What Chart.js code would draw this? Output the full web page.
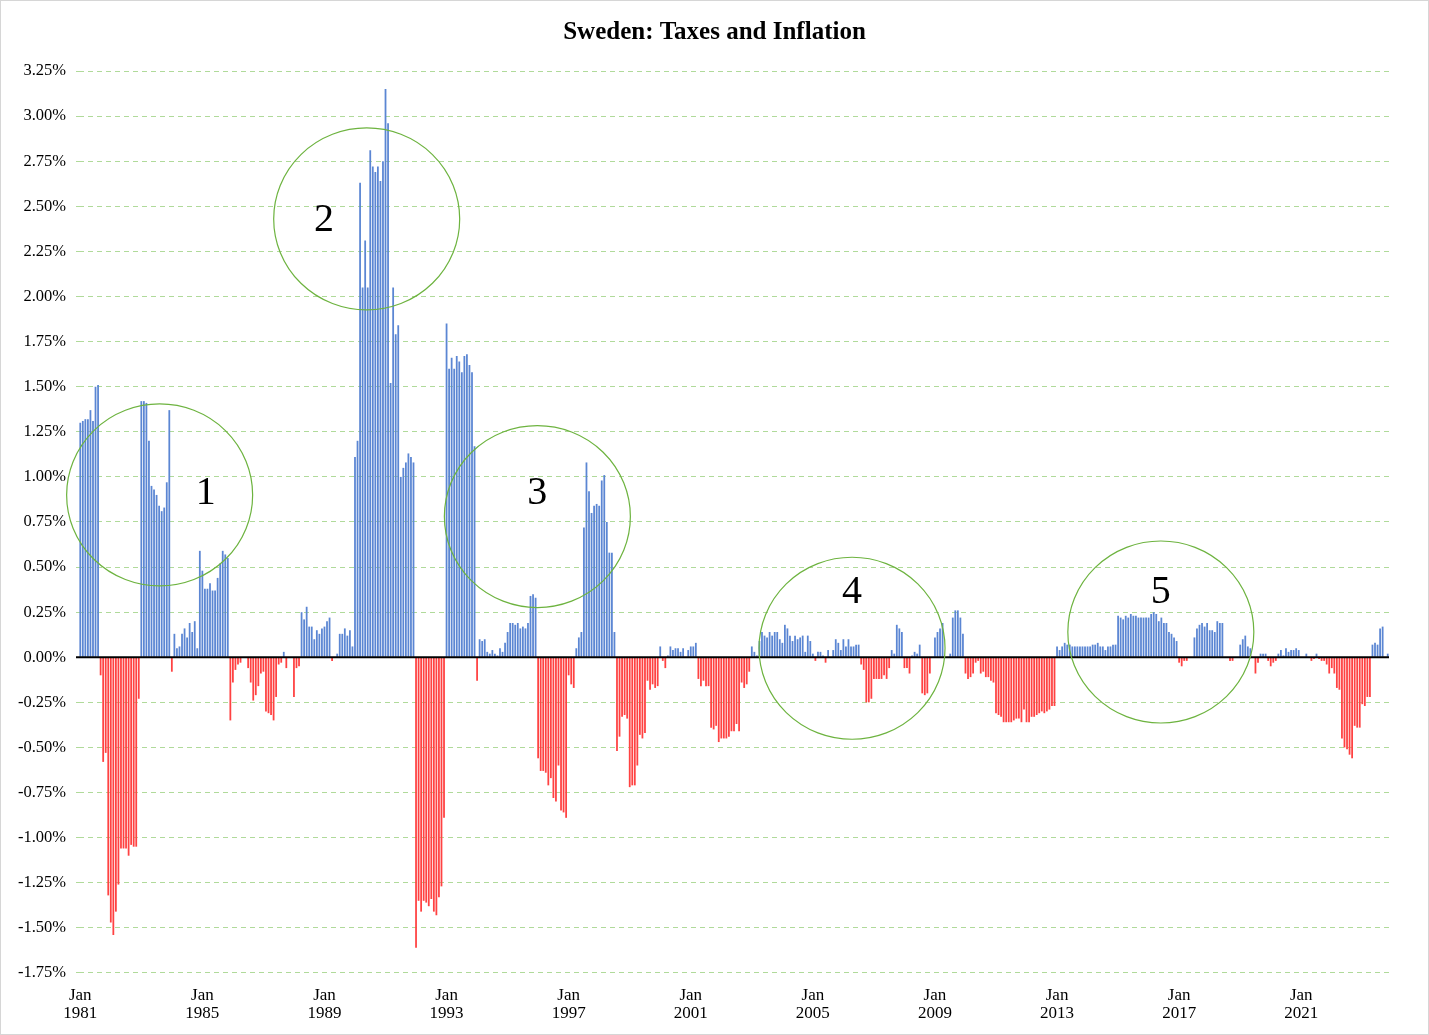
<!DOCTYPE html>
<html lang="en">
<head>
    <meta charset="UTF-8">
    <title>Sweden: Taxes and Inflation</title>
    <script src="https://cdn.jsdelivr.net/npm/chart.js"></script>
    <style>
        html, body { margin: 0; padding: 0; background: #fff; }
        .frame { width: 1429px; height: 1035px; box-sizing: border-box; border: 1px solid #d6d6d6; }
        canvas { display: block; }
    </style>
</head>
<body>
    <div class="frame"><canvas id="chart"></canvas></div>

    <script>
        // Monthly values (%), one array per year
        const startYear = 1981;
        const monthNames = ['Jan','Feb','Mar','Apr','May','Jun','Jul','Aug','Sep','Oct','Nov','Dec'];

        const y1981 = [1.30, 1.31, 1.32, 1.32, 1.37, 1.31, 1.50, 1.51, -0.10, -0.58, -0.53, -1.32];
        const y1982 = [-1.47, -1.54, -1.41, -1.26, -1.06, -1.06, -1.06, -1.10, -1.04, -1.05, -1.05, -0.23];
        const y1983 = [1.42, 1.42, 1.41, 1.20, 0.95, 0.93, 0.90, 0.84, 0.81, 0.83, 0.97, 1.37];
        const y1984 = [-0.08, 0.13, 0.05, 0.06, 0.13, 0.16, 0.11, 0.19, 0.14, 0.20, 0.05, 0.59];
        const y1985 = [0.48, 0.38, 0.38, 0.41, 0.37, 0.37, 0.44, 0.52, 0.59, 0.57, 0.55, -0.35];
        const y1986 = [-0.14, -0.07, -0.04, -0.03, 0, 0, -0.06, -0.14, -0.24, -0.21, -0.16, -0.09];
        const y1987 = [-0.08, -0.30, -0.31, -0.32, -0.35, -0.22, -0.04, -0.03, 0.03, -0.06, 0, 0];
        const y1988 = [-0.22, -0.06, -0.05, 0.25, 0.21, 0.28, 0.17, 0.17, 0.10, 0.15, 0.13, 0.16];
        const y1989 = [0.17, 0.20, 0.22, -0.02, 0, 0.02, 0.13, 0.13, 0.16, 0.12, 0.15, 0.06];
        const y1990 = [1.11, 1.20, 2.63, 2.05, 2.31, 2.05, 2.81, 2.72, 2.69, 2.72, 2.64, 2.75];
        const y1991 = [3.15, 2.96, 1.52, 2.05, 1.79, 1.84, 1.00, 1.05, 1.08, 1.13, 1.11, 1.08];
        const y1992 = [-1.61, -1.35, -1.41, -1.35, -1.36, -1.38, -1.34, -1.41, -1.43, -1.33, -1.27, -0.89];
        const y1993 = [1.85, 1.60, 1.66, 1.60, 1.67, 1.64, 1.58, 1.67, 1.68, 1.62, 1.58, 1.17];
        const y1994 = [-0.13, 0.10, 0.09, 0.10, 0.03, 0.02, 0.04, 0.02, 0.01, 0.05, 0.03, 0.08];
        const y1995 = [0.14, 0.19, 0.19, 0.18, 0.19, 0.16, 0.17, 0.16, 0.19, 0.34, 0.35, 0.33];
        const y1996 = [-0.56, -0.63, -0.63, -0.64, -0.71, -0.67, -0.78, -0.80, -0.60, -0.85, -0.86, -0.89];
        const y1997 = [-0.10, -0.15, -0.17, 0.05, 0.11, 0.14, 0.72, 1.08, 0.92, 0.80, 0.84, 0.85];
        const y1998 = [0.84, 0.98, 1.01, 0.75, 0.58, 0.58, 0.14, -0.52, -0.44, -0.33, -0.32, -0.34];
        const y1999 = [-0.72, -0.71, -0.71, -0.60, -0.43, -0.45, -0.42, -0.13, -0.18, -0.15, -0.17, -0.16];
        const y2000 = [0.06, -0.02, -0.06, 0.01, 0.06, 0.04, 0.05, 0.05, 0.03, 0.05, 0, 0.04];
        const y2001 = [0.06, 0.06, 0.08, -0.12, -0.16, -0.13, -0.16, -0.16, -0.39, -0.40, -0.38, -0.47];
        const y2002 = [-0.45, -0.45, -0.45, -0.44, -0.41, -0.41, -0.37, -0.41, -0.14, -0.17, -0.15, -0.08];
        const y2003 = [0.06, 0.03, 0.01, 0.09, 0.14, 0.12, 0.11, 0.14, 0.12, 0.14, 0.14, 0.10];
        const y2004 = [0.08, 0.18, 0.16, 0.12, 0.09, 0.12, 0.10, 0.11, 0.12, 0.03, 0.12, 0.09];
        const y2005 = [0.02, -0.02, 0.03, 0.03, 0.01, -0.03, 0.04, 0, 0.04, 0.10, 0.08, 0.04];
        const y2006 = [0.10, 0.06, 0.10, 0.06, 0.06, 0.07, 0.07, -0.04, -0.07, -0.25, -0.25, -0.23];
        const y2007 = [-0.12, -0.12, -0.12, -0.12, -0.10, -0.12, -0.06, 0.04, 0.02, 0.18, 0.16, 0.14];
        const y2008 = [-0.06, -0.06, -0.09, 0.01, 0.03, 0.02, 0.07, -0.20, -0.21, -0.20, -0.09, 0];
        const y2009 = [0.11, 0.14, 0.16, 0.19, 0, 0, 0.02, 0.22, 0.26, 0.26, 0.22, 0.13];
        const y2010 = [-0.09, -0.12, -0.11, -0.09, -0.03, -0.02, -0.09, -0.08, -0.11, -0.11, -0.13, -0.14];
        const y2011 = [-0.31, -0.32, -0.33, -0.36, -0.36, -0.36, -0.36, -0.35, -0.34, -0.34, -0.36, -0.29];
        const y2012 = [-0.36, -0.36, -0.33, -0.33, -0.32, -0.31, -0.30, -0.31, -0.30, -0.29, -0.27, -0.27];
        const y2013 = [0.06, 0.04, 0.06, 0.08, 0.07, 0.07, 0.06, 0.06, 0.06, 0.06, 0.06, 0.06];
        const y2014 = [0.06, 0.06, 0.07, 0.07, 0.08, 0.06, 0.06, 0.04, 0.06, 0.06, 0.07, 0.07];
        const y2015 = [0.23, 0.22, 0.21, 0.23, 0.22, 0.24, 0.23, 0.23, 0.22, 0.22, 0.22, 0.22];
        const y2016 = [0.22, 0.24, 0.25, 0.24, 0.20, 0.22, 0.19, 0.19, 0.14, 0.13, 0.11, 0.09];
        const y2017 = [-0.03, -0.05, -0.02, -0.02, 0, 0, 0.11, 0.16, 0.18, 0.19, 0.17, 0.19];
        const y2018 = [0.15, 0.15, 0.14, 0.20, 0.19, 0.19, 0, 0, -0.02, -0.02, 0, 0];
        const y2019 = [0.07, 0.10, 0.12, 0.06, 0.05, 0, -0.09, -0.03, 0.02, 0.02, 0.02, -0.02];
        const y2020 = [-0.05, -0.03, -0.02, 0.02, 0.04, 0.01, 0.05, 0.03, 0.04, 0.04, 0.05, 0.04];
        const y2021 = [0, 0, 0.02, 0, -0.02, -0.01, 0.02, -0.01, -0.02, -0.02, -0.04, -0.09];
        const y2022 = [-0.06, -0.09, -0.17, -0.18, -0.45, -0.50, -0.51, -0.54, -0.56, -0.38, -0.39, -0.39];
        const y2023 = [-0.26, -0.27, -0.22, -0.22, 0.07, 0.08, 0.07, 0.16, 0.17, 0, 0.02];

        const yearly = [y1981, y1982, y1983, y1984, y1985, y1986, y1987, y1988, y1989, y1990,
                        y1991, y1992, y1993, y1994, y1995, y1996, y1997, y1998, y1999, y2000,
                        y2001, y2002, y2003, y2004, y2005, y2006, y2007, y2008, y2009, y2010,
                        y2011, y2012, y2013, y2014, y2015, y2016, y2017, y2018, y2019, y2020,
                        y2021, y2022, y2023];

        // Axis labels
        const labelYears = [1981, 1985, 1989, 1993, 1997, 2001, 2005, 2009, 2013, 2017, 2021];
        const yTicks = [3.25, 3.00, 2.75, 2.50, 2.25, 2.00, 1.75, 1.50, 1.25, 1.00, 0.75, 0.50, 0.25, 0,
                        -0.25, -0.50, -0.75, -1.00, -1.25, -1.50, -1.75];

        // Circled notes: number, circle centre and label spot (month index, %)
        const notes = [
            { text: '1', cx: 31.2, cy: 0.90, tx: 49.3, ty: 0.91 },
            { text: '2', cx: 112.6, cy: 2.43, tx: 95.8, ty: 2.42 },
            { text: '3', cx: 179.7, cy: 0.78, tx: 179.7, ty: 0.91 },
            { text: '4', cx: 303.4, cy: 0.05, tx: 303.4, ty: 0.36 },
            { text: '5', cx: 424.8, cy: 0.14, tx: 424.8, ty: 0.36 }
        ];

        const labels = [];
        const values = [];
        yearly.forEach((arr, k) => {
            arr.forEach((v, m) => {
                labels.push(monthNames[m] + ' ' + (startYear + k));
                values.push(v);
            });
        });

        const SERIF = "'Times New Roman', 'Liberation Serif', serif";
        const TITLE = 'Sweden: Taxes and Inflation';

        // title centred on the page, zero line and circled numbers
        const extras = {
            id: 'extras',
            afterDatasetsDraw(chart) {
                const { ctx, chartArea, scales } = chart;
                const y0 = scales.y.getPixelForValue(0);
                ctx.save();
                ctx.strokeStyle = '#000';
                ctx.lineWidth = 2;
                ctx.beginPath();
                ctx.moveTo(chartArea.left - 3, y0);
                ctx.lineTo(chartArea.right, y0);
                ctx.stroke();
                ctx.restore();
            },
            afterDraw(chart) {
                const { ctx, scales } = chart;
                ctx.save();
                ctx.fillStyle = '#000';
                ctx.font = 'bold 25px ' + SERIF;
                ctx.textAlign = 'center';
                ctx.textBaseline = 'middle';
                ctx.fillText(TITLE, chart.width / 2, 32);

                notes.forEach(n => {
                    ctx.strokeStyle = '#6db33f';
                    ctx.lineWidth = 1.2;
                    ctx.beginPath();
                    ctx.ellipse(scales.x.getPixelForValue(n.cx), scales.y.getPixelForValue(n.cy), 93, 91, 0, 0, Math.PI * 2);
                    ctx.stroke();
                    ctx.font = '40px ' + SERIF;
                    ctx.fillText(n.text, scales.x.getPixelForValue(n.tx), scales.y.getPixelForValue(n.ty));
                });
                ctx.restore();
            }
        };

        new Chart(document.getElementById('chart'), {
            type: 'bar',
            data: {
                labels: labels,
                datasets: [{
                    data: values,
                    backgroundColor: c => c.raw >= 0 ? '#5b86d3' : '#ff4242',
                    barPercentage: 0.7,
                    categoryPercentage: 1.0
                }]
            },
            options: {
                responsive: true,
                maintainAspectRatio: false,
                animation: false,
                layout: { padding: { left: 10, right: 39, top: 70, bottom: 5 } },
                plugins: {
                    legend: { display: false },
                    tooltip: { enabled: false },
                    title: { display: false }
                },
                scales: {
                    x: {
                        grid: { display: false },
                        border: { display: false },
                        ticks: {
                            autoSkip: false,
                            maxRotation: 0,
                            color: '#000',
                            padding: 6,
                            font: { family: SERIF, size: 17, lineHeight: 1.06 },
                            callback: function (val) {
                                const l = this.getLabelForValue(val);
                                const [mon, yr] = l.split(' ');
                                return (mon === 'Jan' && labelYears.includes(+yr)) ? [mon, yr] : null;
                            }
                        }
                    },
                    y: {
                        min: -1.75,
                        max: 3.25,
                        afterBuildTicks: s => { s.ticks = yTicks.map(v => ({ value: v })); },
                        afterFit: s => { s.width = 68; },
                        grid: { color: 'rgba(150, 205, 120, 0.75)', lineWidth: 1, tickLength: 3 },
                        border: { display: false, dash: [5, 4] },
                        ticks: {
                            color: '#000',
                            padding: 10,
                            font: { family: SERIF, size: 16.5 },
                            callback: v => v.toFixed(2) + '%'
                        }
                    }
                }
            },
            plugins: [extras]
        });
    </script>
</body>
</html>
